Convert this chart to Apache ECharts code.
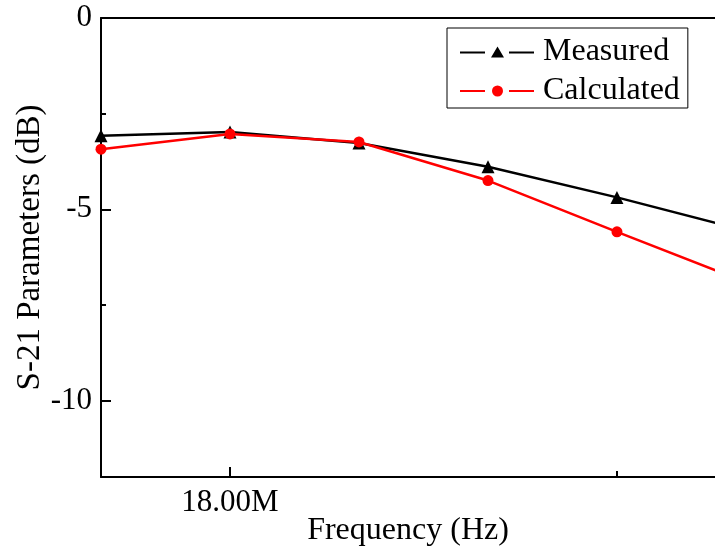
<!DOCTYPE html>
<html>
<head>
<meta charset="utf-8">
<script src="https://cdn.jsdelivr.net/npm/echarts@6/dist/echarts.min.js"></script>
<style>html,body{margin:0;padding:0;background:#fff}#c{width:715px;height:554px}</style>
</head>
<body>
<div id="c"></div>
<script>
// Frequency in MHz
const freqs = [17.5, 18.0, 18.5, 19.0, 19.5, 20.0];
const measured = [-3.08, -2.98, -3.27, -3.89, -4.69, -5.56];
const calculated = [-3.43, -3.03, -3.24, -4.25, -5.59, -6.91];
const xMajorTicks = [18.0];
const xMinorTicks = [19.5];
const yMajorTicks = [0, -5, -10];
const yMinorTicks = [-2.5, -7.5];

const FONT = "'Liberation Serif', 'Times New Roman', serif";
const xMin = 17.5, xMax = 19.88, yMin = -12, yMax = 0;

// legend icons: line - marker - line (with gaps)
const ICON_TRI = 'path://M0 5H25V7H0Z M49 5H74V7H49Z M31 11L44 11L37.5 0Z';
const ICON_CIR = 'path://M0 4.5H25V6.5H0Z M49 4.5H74V6.5H49Z M32 5.5A5.5 5.5 0 1 0 43 5.5A5.5 5.5 0 1 0 32 5.5Z';

const chart = echarts.init(document.getElementById('c'), null, {renderer: 'canvas'});
const axisLineStyle = {color: '#000', width: 2};

chart.setOption({
  animation: false,
  backgroundColor: '#fff',
  grid: {left: 101, right: 0, top: 18, bottom: 77, containLabel: false, outerBoundsMode: 'none'},
  legend: {
    orient: 'vertical',
    left: 447, top: 28,
    borderColor: '#000', borderWidth: 1,
    padding: [8, 8, 1, 13],
    itemGap: 7,
    itemWidth: 74, itemHeight: 11,
    textStyle: {fontFamily: FONT, fontSize: 32, color: '#000', lineHeight: 32, padding: [0,0,0,4]},
    data: [
      {name: 'Measured', icon: ICON_TRI, itemStyle: {color: '#000', borderWidth: 0}},
      {name: 'Calculated', icon: ICON_CIR, itemStyle: {color: '#ff0000', borderWidth: 0}}
    ]
  },
  xAxis: [{
    type: 'value', position: 'bottom', min: xMin, max: xMax,
    name: 'Frequency (Hz)', nameLocation: 'middle', nameGap: 38, nameMoveOverlap: false,
    nameTextStyle: {fontFamily: FONT, fontSize: 32, color: '#000'},
    axisLine: {show: true, onZero: false, lineStyle: axisLineStyle},
    axisTick: {show: true, inside: true, length: 10, lineStyle: {color: '#000', width: 2}, customValues: xMajorTicks},
    axisLabel: {show: true, margin: 10, fontFamily: FONT, fontSize: 31, color: '#000', customValues: xMajorTicks,
      formatter: v => v.toFixed(2) + 'M'},
    splitLine: {show: false}
  }, {
    type: 'value', position: 'bottom', min: xMin, max: xMax,
    axisLine: {show: false, onZero: false},
    axisTick: {show: true, inside: true, length: 6, lineStyle: {color: '#000', width: 2}, customValues: xMinorTicks},
    axisLabel: {show: false},
    splitLine: {show: false}
  }, {
    type: 'value', position: 'top', min: xMin, max: xMax,
    axisLine: {show: true, onZero: false, lineStyle: axisLineStyle},
    axisTick: {show: false}, axisLabel: {show: false}, splitLine: {show: false}
  }],
  yAxis: [{
    type: 'value', position: 'left', min: yMin, max: yMax,
    name: 'S-21 Parameters (dB)', nameLocation: 'middle', nameGap: 54, nameRotate: 90, nameMoveOverlap: false,
    nameTextStyle: {fontFamily: FONT, fontSize: 33, color: '#000'},
    axisLine: {show: true, onZero: false, lineStyle: axisLineStyle},
    axisTick: {show: true, inside: true, length: 10, lineStyle: {color: '#000', width: 2}, customValues: yMajorTicks},
    axisLabel: {show: true, margin: 9, fontFamily: FONT, fontSize: 31, color: '#000', customValues: yMajorTicks},
    splitLine: {show: false}
  }, {
    type: 'value', position: 'left', min: yMin, max: yMax,
    axisLine: {show: false, onZero: false},
    axisTick: {show: true, inside: true, length: 5, lineStyle: {color: '#000', width: 2}, customValues: yMinorTicks},
    axisLabel: {show: false},
    splitLine: {show: false}
  }],
  series: [{
    name: 'Measured', type: 'line',
    data: freqs.map((f, i) => [f, measured[i]]),
    symbol: 'triangle', symbolSize: 13,
    lineStyle: {color: '#000', width: 2.5},
    itemStyle: {color: '#000'},
    z: 2
  }, {
    name: 'Calculated', type: 'line',
    data: freqs.map((f, i) => [f, calculated[i]]),
    symbol: 'circle', symbolSize: 11,
    lineStyle: {color: '#ff0000', width: 2.5},
    itemStyle: {color: '#ff0000'},
    z: 3
  }]
});
</script>
</body>
</html>
